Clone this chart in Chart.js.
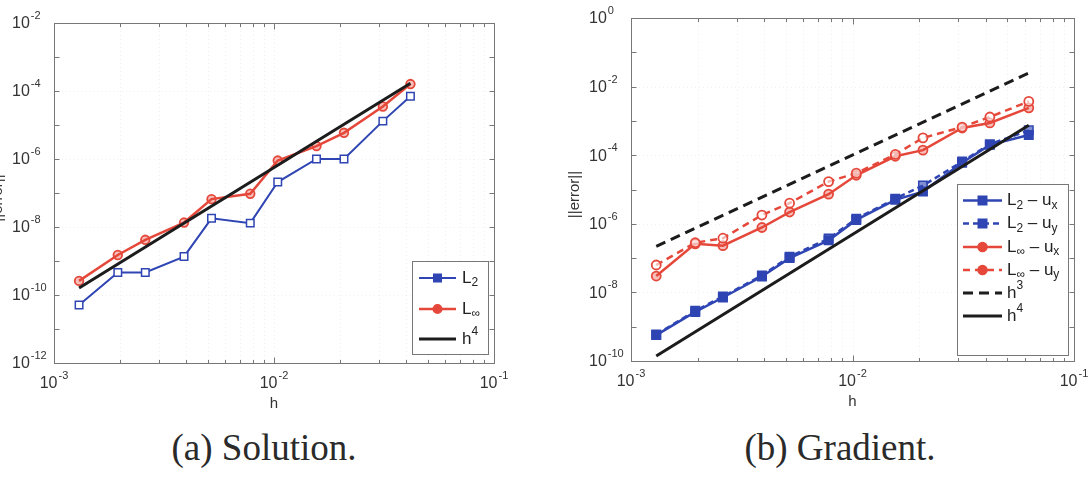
<!DOCTYPE html>
<html>
<head>
<meta charset="utf-8">
<script src="https://cdn.jsdelivr.net/npm/chart.js@4/dist/chart.umd.min.js"></script>
<style>
  html, body { margin: 0; padding: 0; background: #fff; }
  body { width: 1092px; height: 479px; position: relative; overflow: hidden; }
  canvas { position: absolute; top: 0; }
  #solCanvas { left: 0; }
  #gradCanvas { left: 546px; }
  .caption {
    position: absolute; top: 429px; line-height: 37px;
    font-family: "Liberation Serif", "DejaVu Serif", serif; font-size: 37px; color: #2a2a2a;
    transform: translateX(-50%); white-space: nowrap;
  }
</style>
</head>
<body>
<canvas id="solCanvas" width="546" height="420"></canvas>
<canvas id="gradCanvas" width="546" height="420"></canvas>
<div class="caption" style="left:264px">(a) Solution.</div>
<div class="caption" style="left:840px">(b) Gradient.</div>

<script>
// ---- (a) Solution: tamanhos de malha e erros ----
const hA = [0.0013, 0.00195, 0.0026, 0.0039, 0.0052, 0.0078, 0.0104, 0.0156, 0.0208, 0.03125, 0.0417];
const solL2 = [5.1e-11, 4.6e-10, 4.6e-10, 1.35e-9, 1.8e-8, 1.3e-8, 2.1e-7, 1.0e-6, 1.0e-6, 1.3e-5, 7.0e-5];
const solLinf = [2.6e-10, 1.5e-9, 4.2e-9, 1.35e-8, 6.6e-8, 9.5e-8, 9.0e-7, 2.4e-6, 5.9e-6, 3.5e-5, 1.6e-4];
const solH4x = [0.0013, 0.0417];
const solH4y = [1.6e-10, 1.7e-4];

// ---- (b) Gradient ----
const hB = [0.0013, 0.00195, 0.0026, 0.0039, 0.0052, 0.0078, 0.0104, 0.0156, 0.0208, 0.03125, 0.0417, 0.0625];
const gradL2x = [5.7e-10, 2.7e-9, 7.1e-9, 2.9e-8, 1.0e-7, 3.3e-7, 1.3e-6, 5.0e-6, 8.7e-6, 6.0e-5, 2.0e-4, 3.9e-4];
const gradL2y = [5.9e-10, 2.9e-9, 7.6e-9, 3.1e-8, 1.1e-7, 3.7e-7, 1.4e-6, 5.4e-6, 1.3e-5, 6.5e-5, 2.1e-4, 5.3e-4];
const gradLinfx = [3.0e-8, 2.6e-7, 2.3e-7, 7.8e-7, 2.2e-6, 7.3e-6, 2.6e-5, 9.3e-5, 1.4e-4, 6.2e-4, 8.7e-4, 2.4e-3];
const gradLinfy = [6.3e-8, 2.8e-7, 3.8e-7, 1.8e-6, 4.0e-6, 1.7e-5, 3.0e-5, 1.05e-4, 3.2e-4, 6.6e-4, 1.3e-3, 3.7e-3];
const gradH3x = [0.0013, 0.0625];
const gradH3y = [2.2e-7, 2.5e-2];
const gradH4x = [0.0013, 0.0625];
const gradH4y = [1.4e-10, 7.5e-4];

// ---- ticks ----
const xMajor = [1e-3, 1e-2, 1e-1];
const xMajorLabels = ['-3', '-2', '-1'];
const xMinor = [0.002, 0.003, 0.004, 0.005, 0.006, 0.007, 0.008, 0.009,
                0.02, 0.03, 0.04, 0.05, 0.06, 0.07, 0.08, 0.09];
const yTicksA = [1e-12, 1e-11, 1e-10, 1e-9, 1e-8, 1e-7, 1e-6, 1e-5, 1e-4, 1e-3, 1e-2];
const yLabelsA = ['-12', '', '-10', '', '-8', '', '-6', '', '-4', '', '-2'];
const yTicksB = [1e-10, 1e-9, 1e-8, 1e-7, 1e-6, 1e-5, 1e-4, 1e-3, 1e-2, 1e-1, 1];
const yLabelsB = ['-10', '', '-8', '', '-6', '', '-4', '', '-2', '', '0'];

// ---- textos ----
const xTitle = 'h';
const yTitle = '||error||';
const solLegend = [
  [['L', ''], ['2', 'sub']],
  [['L', ''], ['\u221e', 'sub']],
  [['h', ''], ['4', 'sup']]
];
const gradLegend = [
  [['L', ''], ['2', 'sub'], [' \u2013 u', ''], ['x', 'sub']],
  [['L', ''], ['2', 'sub'], [' \u2013 u', ''], ['y', 'sub']],
  [['L', ''], ['\u221e', 'sub'], [' \u2013 u', ''], ['x', 'sub']],
  [['L', ''], ['\u221e', 'sub'], [' \u2013 u', ''], ['y', 'sub']],
  [['h', ''], ['3', 'sup']],
  [['h', ''], ['4', 'sup']]
];

const BLUE = '#2f45b3';
const RED = '#e5483a';
const BLACK = '#1c1c1c';
const SANS = '"Liberation Sans", Arial, sans-serif';

function pts(xs, ys) {
  return xs.map((x, i) => ({ x: x, y: ys[i] }));
}

// "10" com expoente
function drawPow(ctx, exp, x, y, mode) {
  ctx.font = '16px ' + SANS;
  const w10 = ctx.measureText('10').width;
  ctx.font = '11px ' + SANS;
  const we = ctx.measureText(exp).width;
  const x0 = mode === 'center' ? x - (w10 + we + 1) / 2 : x;
  ctx.textAlign = 'left';
  ctx.textBaseline = 'middle';
  ctx.font = '16px ' + SANS;
  ctx.fillText('10', x0, y);
  ctx.font = '11px ' + SANS;
  ctx.fillText(exp, x0 + w10 + 1, y - 8);
}

function drawParts(ctx, parts, x, y) {
  parts.forEach(([t, k]) => {
    ctx.font = (k ? '12px ' : '17px ') + SANS;
    const dy = k === 'sub' ? 5 : k === 'sup' ? -7 : 0;
    ctx.fillText(t, x, y + dy);
    x += ctx.measureText(t).width;
  });
}

function drawMarker(ctx, ds, x, y) {
  if (!ds.pointRadius) return;
  ctx.save();
  ctx.setLineDash([]);
  ctx.fillStyle = ds.borderColor;
  ctx.strokeStyle = ds.borderColor;
  ctx.lineWidth = 1.5;
  ctx.beginPath();
  if (ds.pointStyle === 'rect') {
    const s = ds.pointRadius * Math.SQRT1_2;
    ctx.rect(x - s, y - s, 2 * s, 2 * s);
  } else {
    ctx.arc(x, y, ds.pointRadius, 0, Math.PI * 2);
  }
  ctx.fill();
  ctx.stroke();
  ctx.restore();
}

function makeAxesPlugin(cfg) {
  return {
    id: 'matlabAxes',
    beforeDatasetsDraw(chart) {
      const { ctx, chartArea: a, scales: { x, y } } = chart;
      ctx.save();
      ctx.strokeStyle = 'rgba(0,0,0,0.06)';
      ctx.lineWidth = 1;
      ctx.setLineDash([1, 3]);
      xMajor.concat(xMinor).forEach(v => {
        const px = Math.round(x.getPixelForValue(v)) + 0.5;
        ctx.beginPath(); ctx.moveTo(px, a.top); ctx.lineTo(px, a.bottom); ctx.stroke();
      });
      cfg.yTicks.forEach((v, i) => {
        if (!cfg.yLabels[i]) return;
        const py = Math.round(y.getPixelForValue(v)) + 0.5;
        ctx.beginPath(); ctx.moveTo(a.left, py); ctx.lineTo(a.right, py); ctx.stroke();
      });
      ctx.restore();
    },
    afterDraw(chart) {
      const { ctx, chartArea: a, scales: { x, y } } = chart;
      const l = Math.round(a.left) + 0.5, r = Math.round(a.right) + 0.5;
      const t = Math.round(a.top) + 0.5, b = Math.round(a.bottom) + 0.5;
      ctx.save();
      // caixa e ticks internos
      ctx.strokeStyle = '#777';
      ctx.lineWidth = 1;
      ctx.strokeRect(l, t, r - l, b - t);
      ctx.beginPath();
      xMajor.concat(xMinor).forEach((v, i) => {
        const len = i < xMajor.length ? 6 : 3.5;
        const px = Math.round(x.getPixelForValue(v)) + 0.5;
        ctx.moveTo(px, b); ctx.lineTo(px, b - len);
        ctx.moveTo(px, t); ctx.lineTo(px, t + len);
      });
      cfg.yTicks.forEach(v => {
        const py = Math.round(y.getPixelForValue(v)) + 0.5;
        ctx.moveTo(l, py); ctx.lineTo(l + 5, py);
        ctx.moveTo(r, py); ctx.lineTo(r - 5, py);
      });
      ctx.stroke();

      // rótulos dos ticks
      ctx.fillStyle = '#333';
      xMajor.forEach((v, i) => drawPow(ctx, xMajorLabels[i], x.getPixelForValue(v), a.bottom + 21, 'center'));
      cfg.yTicks.forEach((v, i) => {
        if (cfg.yLabels[i]) drawPow(ctx, cfg.yLabels[i], a.left - 42, y.getPixelForValue(v) + 1, 'left');
      });

      // títulos dos eixos
      ctx.font = '15px ' + SANS;
      ctx.textAlign = 'center';
      ctx.textBaseline = 'middle';
      ctx.fillText(xTitle, (a.left + a.right) / 2, a.bottom + 41);
      ctx.save();
      ctx.translate(a.left - 56, (a.top + a.bottom) / 2 + 5);
      ctx.rotate(-Math.PI / 2);
      ctx.fillText(yTitle, 0, 0);
      ctx.restore();

      // legenda
      const lg = cfg.legend;
      ctx.fillStyle = '#fff';
      ctx.fillRect(lg.box[0], lg.box[1], lg.box[2] - lg.box[0], lg.box[3] - lg.box[1]);
      ctx.strokeStyle = '#777';
      ctx.strokeRect(lg.box[0] + 0.5, lg.box[1] + 0.5, lg.box[2] - lg.box[0], lg.box[3] - lg.box[1]);
      lg.rows.forEach((ry, i) => {
        const ds = chart.data.datasets[i];
        ctx.strokeStyle = ds.borderColor;
        ctx.lineWidth = ds.borderWidth;
        ctx.setLineDash(ds.borderDash || []);
        ctx.beginPath();
        ctx.moveTo(lg.x0, ry); ctx.lineTo(lg.x1, ry);
        ctx.stroke();
        ctx.setLineDash([]);
        drawMarker(ctx, ds, (lg.x0 + lg.x1) / 2, ry);
        ctx.fillStyle = '#222';
        ctx.textAlign = 'left';
        ctx.textBaseline = 'middle';
        drawParts(ctx, lg.labels[i], lg.tx, ry);
      });
      ctx.restore();
    }
  };
}

function baseOptions(pad, yMin, yMax) {
  return {
    responsive: false,
    animation: false,
    layout: { padding: pad },
    plugins: { legend: { display: false }, tooltip: { enabled: false } },
    scales: {
      x: { type: 'logarithmic', min: 1e-3, max: 1e-1, display: false },
      y: { type: 'logarithmic', min: yMin, max: yMax, display: false }
    }
  };
}

// Gráfico (a)
new Chart(document.getElementById('solCanvas'), {
  type: 'scatter',
  data: {
    datasets: [
      { data: pts(hA, solL2), showLine: true, borderColor: BLUE, borderWidth: 2,
        pointStyle: 'rect', pointRadius: 5.3, pointBorderWidth: 1.5, pointBackgroundColor: '#fff', order: 2 },
      { data: pts(hA, solLinf), showLine: true, borderColor: RED, borderWidth: 2.5,
        pointStyle: 'circle', pointRadius: 4.3, pointBorderWidth: 1.8, pointBackgroundColor: 'rgba(229,72,58,0.35)', order: 1 },
      { data: pts(solH4x, solH4y), showLine: true, borderColor: BLACK, borderWidth: 3, pointRadius: 0, order: 0 }
    ]
  },
  options: baseOptions({ left: 54, right: 52, top: 23, bottom: 57 }, 1e-12, 1e-2),
  plugins: [makeAxesPlugin({
    yTicks: yTicksA, yLabels: yLabelsA,
    legend: { box: [412, 261, 488, 354], rows: [278, 309, 339], x0: 419, x1: 456, tx: 462, labels: solLegend }
  })]
});

// Gráfico (b)
new Chart(document.getElementById('gradCanvas'), {
  type: 'scatter',
  data: {
    datasets: [
      { data: pts(hB, gradL2x), showLine: true, borderColor: BLUE, borderWidth: 2.5,
        pointStyle: 'rect', pointRadius: 6, pointBorderWidth: 1.5, pointBackgroundColor: BLUE, order: 5 },
      { data: pts(hB, gradL2y), showLine: true, borderColor: BLUE, borderWidth: 2.5, borderDash: [6, 4],
        pointStyle: 'rect', pointRadius: 6, pointBorderWidth: 1.5, pointBackgroundColor: 'rgba(47,69,179,0.6)', order: 4 },
      { data: pts(hB, gradLinfx), showLine: true, borderColor: RED, borderWidth: 2.5,
        pointStyle: 'circle', pointRadius: 4.5, pointBorderWidth: 1.8, pointBackgroundColor: 'rgba(229,72,58,0.35)', order: 3 },
      { data: pts(hB, gradLinfy), showLine: true, borderColor: RED, borderWidth: 2.5, borderDash: [7, 5],
        pointStyle: 'circle', pointRadius: 4.5, pointBorderWidth: 1.8, pointBackgroundColor: 'rgba(255,255,255,0.6)', order: 2 },
      { data: pts(gradH3x, gradH3y), showLine: true, borderColor: BLACK, borderWidth: 3, borderDash: [10, 6],
        pointRadius: 0, order: 1 },
      { data: pts(gradH4x, gradH4y), showLine: true, borderColor: BLACK, borderWidth: 3, pointRadius: 0, order: 0 }
    ]
  },
  options: baseOptions({ left: 85, right: 18, top: 18, bottom: 59 }, 1e-10, 1),
  plugins: [makeAxesPlugin({
    yTicks: yTicksB, yLabels: yLabelsB,
    legend: { box: [411, 184, 522, 355], rows: [200.5, 223.5, 247, 270, 293, 316], x0: 417, x1: 456, tx: 461, labels: gradLegend }
  })]
});
</script>
</body>
</html>
